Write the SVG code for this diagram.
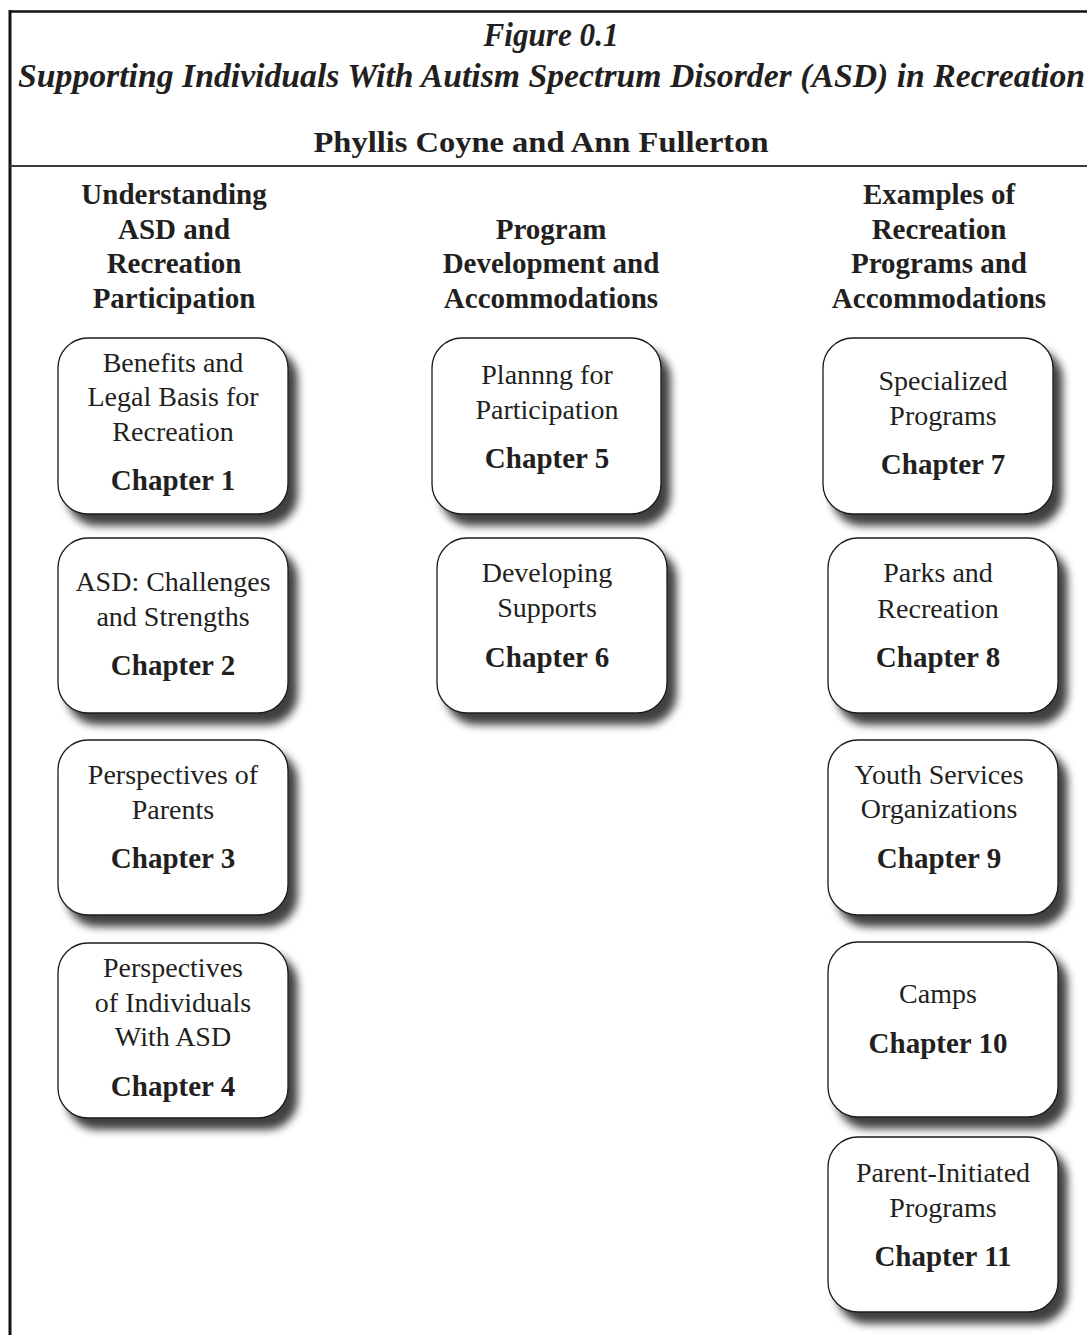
<svg xmlns="http://www.w3.org/2000/svg" width="1087" height="1335" viewBox="0 0 1087 1335">
<defs>
<filter id="sh" x="-15%" y="-15%" width="140%" height="140%">
<feDropShadow dx="9" dy="11" stdDeviation="4.2" flood-color="#000" flood-opacity="0.75"/>
</filter>
</defs>
<style>
.box{fill:#fff;stroke:#1a1a1a;stroke-width:1.3;filter:url(#sh)}
.t{font-family:"Liberation Serif","Times New Roman",serif;font-size:28px;fill:#231f20;text-anchor:middle}
.c{font-family:"Liberation Serif","Times New Roman",serif;font-size:29px;font-weight:bold;fill:#231f20;text-anchor:middle}
.h{font-family:"Liberation Serif","Times New Roman",serif;font-size:29px;font-weight:bold;fill:#231f20;text-anchor:middle}
.ti{font-family:"Liberation Serif","Times New Roman",serif;font-size:33px;font-weight:bold;font-style:italic;fill:#231f20}
</style>
<rect width="1087" height="1335" fill="#fff"/>
<g id="frame">
<line x1="10" y1="11.5" x2="1087" y2="11.5" stroke="#111" stroke-width="2.6"/>
<line x1="10" y1="10" x2="10" y2="1335" stroke="#111" stroke-width="3"/>
<line x1="10" y1="166" x2="1087" y2="166" stroke="#3c3c3c" stroke-width="2"/>
</g>
<g id="title">
<text class="ti" x="551" y="46" text-anchor="middle" textLength="135" lengthAdjust="spacingAndGlyphs">Figure 0.1</text>
<text class="ti" x="18" y="87" textLength="1067" lengthAdjust="spacingAndGlyphs">Supporting Individuals With Autism Spectrum Disorder (ASD) in Recreation</text>
<text class="h" x="541" y="152" font-size="30" textLength="455" lengthAdjust="spacingAndGlyphs">Phyllis Coyne and Ann Fullerton</text>
</g>
<g id="col1-header">
<text class="h" x="174" y="204">Understanding</text>
<text class="h" x="174" y="239">ASD and</text>
<text class="h" x="174" y="273">Recreation</text>
<text class="h" x="174" y="308">Participation</text>
</g>
<g id="col2-header">
<text class="h" x="551" y="239">Program</text>
<text class="h" x="551" y="273">Development and</text>
<text class="h" x="551" y="308">Accommodations</text>
</g>
<g id="col3-header">
<text class="h" x="939" y="204">Examples of</text>
<text class="h" x="939" y="239">Recreation</text>
<text class="h" x="939" y="273">Programs and</text>
<text class="h" x="939" y="308">Accommodations</text>
</g>
<g id="connectors"></g>
<g id="ch1">
<rect class="box" x="58" y="338" width="230" height="176" rx="30"/>
<text class="t" x="173" y="372">Benefits and</text>
<text class="t" x="173" y="406">Legal Basis for</text>
<text class="t" x="173" y="441">Recreation</text>
<text class="c" x="173" y="490">Chapter 1</text>
</g>
<g id="ch2">
<rect class="box" x="58" y="538" width="230" height="175" rx="30"/>
<text class="t" x="173" y="591">ASD: Challenges</text>
<text class="t" x="173" y="626">and Strengths</text>
<text class="c" x="173" y="675">Chapter 2</text>
</g>
<g id="ch3">
<rect class="box" x="58" y="740" width="230" height="175" rx="30"/>
<text class="t" x="173" y="784">Perspectives of</text>
<text class="t" x="173" y="819">Parents</text>
<text class="c" x="173" y="868">Chapter 3</text>
</g>
<g id="ch4">
<rect class="box" x="58" y="943" width="230" height="175" rx="30"/>
<text class="t" x="173" y="977">Perspectives</text>
<text class="t" x="173" y="1012">of Individuals</text>
<text class="t" x="173" y="1046">With ASD</text>
<text class="c" x="173" y="1096">Chapter 4</text>
</g>
<g id="ch5">
<rect class="box" x="432" y="338" width="229" height="176" rx="30"/>
<text class="t" x="547" y="384">Plannng for</text>
<text class="t" x="547" y="419">Participation</text>
<text class="c" x="547" y="468">Chapter 5</text>
</g>
<g id="ch6">
<rect class="box" x="437" y="538" width="230" height="175" rx="30"/>
<text class="t" x="547" y="582">Developing</text>
<text class="t" x="547" y="617">Supports</text>
<text class="c" x="547" y="667">Chapter 6</text>
</g>
<g id="ch7">
<rect class="box" x="823" y="338" width="230" height="176" rx="30"/>
<text class="t" x="943" y="390">Specialized</text>
<text class="t" x="943" y="425">Programs</text>
<text class="c" x="943" y="474">Chapter 7</text>
</g>
<g id="ch8">
<rect class="box" x="828" y="538" width="230" height="175" rx="30"/>
<text class="t" x="938" y="582">Parks and</text>
<text class="t" x="938" y="618">Recreation</text>
<text class="c" x="938" y="667">Chapter 8</text>
</g>
<g id="ch9">
<rect class="box" x="828" y="740" width="230" height="175" rx="30"/>
<text class="t" x="939" y="784">Youth Services</text>
<text class="t" x="939" y="818">Organizations</text>
<text class="c" x="939" y="868">Chapter 9</text>
</g>
<g id="ch10">
<rect class="box" x="828" y="942" width="230" height="175" rx="30"/>
<text class="t" x="938" y="1003">Camps</text>
<text class="c" x="938" y="1053">Chapter 10</text>
</g>
<g id="ch11">
<rect class="box" x="828" y="1137" width="230" height="175" rx="30"/>
<text class="t" x="943" y="1182">Parent-Initiated</text>
<text class="t" x="943" y="1217">Programs</text>
<text class="c" x="943" y="1266">Chapter 11</text>
</g>
</svg>
